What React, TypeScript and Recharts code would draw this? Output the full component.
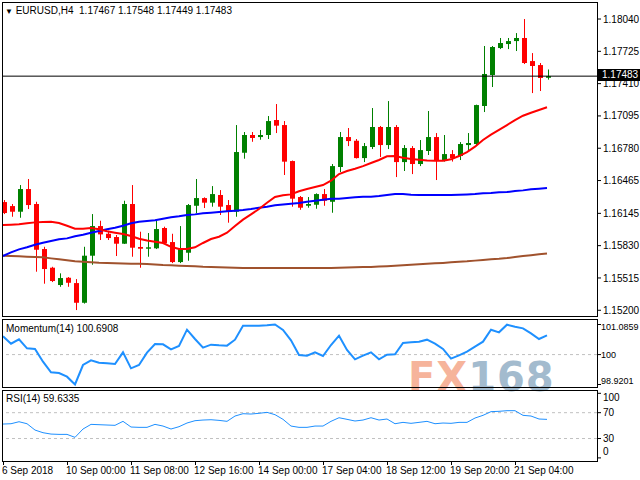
import React from 'react';
import { ComposedChart, Bar, Line, XAxis, YAxis, ReferenceLine } from 'recharts';

const FONT = '"Liberation Sans", Arial, sans-serif';
const BULL = '#008000';
const BEAR = '#FF0000';

// EURUSD H4 candles, one entry per bar (6 Sep 20:00 .. 21 Sep 04:00)
const opens = [
  1.16255, 1.16216, 1.16161, 1.16382, 1.16236, 1.15797, 1.15615, 1.15446, 1.15517, 1.15465,
  1.15273, 1.15732, 1.16021, 1.15946, 1.15914, 1.15849, 1.16236, 1.15817, 1.158, 1.15804,
  1.16002, 1.15865, 1.1567, 1.15761, 1.16219, 1.16294, 1.16249, 1.16324, 1.16226, 1.16161,
  1.16736, 1.16909, 1.16889, 1.16909, 1.17055, 1.17006, 1.16655, 1.16304, 1.16219, 1.16229,
  1.16333, 1.16258, 1.16597, 1.16889, 1.16853, 1.16684, 1.16792, 1.16987, 1.16811, 1.16987,
  1.16645, 1.16782, 1.16626, 1.16753, 1.16889, 1.16658, 1.16723, 1.16704, 1.16811, 1.16821,
  1.17192, 1.17494, 1.17757, 1.17796, 1.17825, 1.17855, 1.1763, 1.17591, 1.17467,
];
const highs = [
  1.16275, 1.16236, 1.16421, 1.1648, 1.16258, 1.15819, 1.15624, 1.1556, 1.15524, 1.15504,
  1.15819, 1.16138, 1.16073, 1.15975, 1.15934, 1.16268, 1.16421, 1.15966, 1.15953, 1.16084,
  1.16015, 1.15946, 1.16021, 1.16236, 1.1648, 1.16301, 1.16411, 1.16372, 1.16275, 1.17006,
  1.16938, 1.16938, 1.16958, 1.17094, 1.17211, 1.17045, 1.1666, 1.16314, 1.16304, 1.1634,
  1.16382, 1.16626, 1.16938, 1.16977, 1.1687, 1.16831, 1.17172, 1.16997, 1.1724, 1.17006,
  1.16811, 1.16801, 1.1686, 1.17143, 1.16928, 1.16909, 1.16762, 1.1684, 1.16928, 1.17205,
  1.17777, 1.17777, 1.17855, 1.17855, 1.17903, 1.1804, 1.17708, 1.17611, 1.17548,
];
const lows = [
  1.16138, 1.16112, 1.16102, 1.16187, 1.15576, 1.15459, 1.15475, 1.15429, 1.15429, 1.15202,
  1.15265, 1.15644, 1.15885, 1.15885, 1.15729, 1.15846, 1.15722, 1.15615, 1.15722, 1.15797,
  1.15846, 1.1566, 1.1566, 1.15683, 1.16145, 1.16197, 1.1621, 1.16129, 1.16054, 1.16112,
  1.16678, 1.16843, 1.16863, 1.1687, 1.16928, 1.16519, 1.1621, 1.1618, 1.162, 1.1619,
  1.16219, 1.16151, 1.16548, 1.16801, 1.1668, 1.16645, 1.16772, 1.16694, 1.16772, 1.16499,
  1.16558, 1.16528, 1.16606, 1.16714, 1.1647, 1.1665, 1.1665, 1.16665, 1.16753, 1.16801,
  1.17133, 1.17377, 1.17747, 1.17747, 1.17728, 1.17601, 1.17318, 1.17338, 1.17449,
];
const closes = [
  1.16148, 1.16161, 1.16382, 1.16226, 1.1579, 1.15602, 1.15485, 1.15514, 1.15468, 1.15273,
  1.15732, 1.16021, 1.1594, 1.15904, 1.15849, 1.16236, 1.1581, 1.158, 1.15814, 1.15992,
  1.15853, 1.1567, 1.15804, 1.16226, 1.16294, 1.16249, 1.16333, 1.1621, 1.16161, 1.16743,
  1.16909, 1.1688, 1.16909, 1.17045, 1.17, 1.16649, 1.16288, 1.162, 1.16236, 1.16333,
  1.16268, 1.16606, 1.16889, 1.1685, 1.16684, 1.16801, 1.16987, 1.16811, 1.16987, 1.16645,
  1.16782, 1.16626, 1.16762, 1.16889, 1.16658, 1.16723, 1.16684, 1.16821, 1.16831, 1.17201,
  1.17504, 1.17767, 1.17806, 1.17825, 1.17855, 1.17611, 1.17582, 1.17465, 1.17483,
];

// moving averages
const maRed = [
  1.16031, 1.16034, 1.16038, 1.16048, 1.16057, 1.1606, 1.16063, 1.16051, 1.16024, 1.15995,
  1.15995, 1.16002, 1.15989, 1.1597, 1.15956, 1.15943, 1.15924, 1.15897, 1.1588, 1.15868,
  1.15856, 1.15819, 1.15797, 1.15797, 1.15814, 1.15856, 1.15895, 1.15917, 1.15956, 1.16021,
  1.16084, 1.16135, 1.16187, 1.16249, 1.16304, 1.16321, 1.1633, 1.1636, 1.16382, 1.16402,
  1.16421, 1.16463, 1.16528, 1.16558, 1.1658, 1.16606, 1.16636, 1.16665, 1.16701, 1.16704,
  1.16687, 1.16675, 1.16668, 1.1666, 1.16658, 1.16658, 1.16672, 1.16704, 1.16743, 1.16795,
  1.1686, 1.16912, 1.16958, 1.17006, 1.17055, 1.17097, 1.17126, 1.17153, 1.17179,
];
const maBlue = [
  1.15729, 1.15765, 1.15794, 1.15814, 1.15839, 1.15858, 1.15875, 1.15892, 1.15901, 1.15921,
  1.15936, 1.15956, 1.15973, 1.15989, 1.16005, 1.16024, 1.16048, 1.16063, 1.1607, 1.16077,
  1.16093, 1.16106, 1.16116, 1.16129, 1.16135, 1.16145, 1.16151, 1.16158, 1.16165, 1.16171,
  1.16177, 1.16187, 1.162, 1.1621, 1.16223, 1.16231, 1.16239, 1.16246, 1.16258, 1.16268,
  1.16278, 1.16288, 1.16288, 1.16294, 1.16301, 1.16307, 1.16307, 1.16314, 1.16324, 1.16333,
  1.16333, 1.16327, 1.16324, 1.16324, 1.16324, 1.16324, 1.16324, 1.16327, 1.1633, 1.16333,
  1.1634, 1.16343, 1.1635, 1.16353, 1.16363, 1.16369, 1.16379, 1.16385, 1.16392,
];
const maBrown = [
  1.15732, 1.15729, 1.15726, 1.15722, 1.15719, 1.15716, 1.15706, 1.15697, 1.15687, 1.15677,
  1.15672, 1.15668, 1.15663, 1.15661, 1.15659, 1.15656, 1.15654, 1.15653, 1.15651, 1.15646,
  1.15641, 1.15638, 1.15634, 1.15631, 1.15628, 1.15624, 1.15622, 1.15619, 1.15616, 1.15614,
  1.15612, 1.15612, 1.15612, 1.15612, 1.15612, 1.15612, 1.15612, 1.15612, 1.15612, 1.15612,
  1.15612, 1.15612, 1.15614, 1.15617, 1.15619, 1.15622, 1.15623, 1.15626, 1.15629, 1.15633,
  1.15638, 1.15643, 1.15648, 1.15653, 1.15658, 1.15662, 1.15667, 1.15672, 1.15677, 1.15684,
  1.1569, 1.15697, 1.15702, 1.15709, 1.15719, 1.15729, 1.15737, 1.15745, 1.15753,
];

const momentum = [
  100.659, 100.394, 100.55, 100.226, 100.202, 99.744, 99.359, 99.335, 99.203, 98.9201,
  99.624, 99.792, 99.708, 99.684, 99.66, 100.081, 99.504, 99.624, 100.069, 100.382,
  100.37, 100.189, 100.31, 100.899, 100.563, 100.25, 100.358, 100.334, 100.322, 100.538,
  101.044, 101.044, 101.044, 101.056, 101.0859, 100.887, 100.514, 99.985, 99.961, 100.081,
  99.949, 100.346, 100.683, 100.165, 99.828, 99.961, 100.081, 99.828, 99.997, 100.009,
  100.418, 100.442, 100.466, 100.538, 100.394, 100.202, 99.853, 99.973, 100.105, 100.286,
  100.466, 100.899, 100.803, 101.08, 101.008, 100.948, 100.767, 100.563, 100.6908,
];
const rsi = [
  52.4, 52.9, 56.0, 52.9, 43.1, 39.0, 36.9, 36.4, 36.4, 31.8,
  44.7, 51.9, 51.4, 50.9, 50.4, 56.6, 47.8, 47.3, 47.3, 51.9,
  49.3, 44.7, 48.3, 54.0, 57.6, 58.6, 59.1, 58.1, 56.6, 64.8,
  68.4, 67.9, 69.0, 70.5, 66.9, 59.7, 49.3, 47.3, 47.3, 49.3,
  49.3, 56.6, 62.2, 59.7, 57.1, 58.6, 62.2, 58.6, 60.2, 52.9,
  55.0, 53.5, 55.0, 56.6, 52.9, 54.0, 53.5, 55.0, 55.0, 61.7,
  65.9, 71.6, 72.1, 73.1, 73.1, 65.9, 64.8, 60.2, 59.6335,
];

const priceTicks = [1.152, 1.15515, 1.1583, 1.16145, 1.16465, 1.1678, 1.17095, 1.1741, 1.17725, 1.1804];
const momTicks = [98.9201, 100, 101.0859];
const rsiTicks = [0, 30, 70, 100];
// one time label every 8 bars
const timeLabels = [
  '6 Sep 2018', '10 Sep 00:00', '11 Sep 08:00', '12 Sep 16:00', '14 Sep 00:00',
  '17 Sep 04:00', '18 Sep 12:00', '19 Sep 20:00', '21 Sep 04:00',
];

const rows = opens.map((o, i) => ({
  i,
  open: o,
  high: highs[i],
  low: lows[i],
  close: closes[i],
  maRed: maRed[i],
  maBlue: maBlue[i],
  maBrown: maBrown[i],
  mom: momentum[i],
  rsi: rsi[i],
}));

const CHART_W = 641;
const AXIS_W = 43;
const X_PAD = { left: 0, right: 46 };
const txt = { fill: '#000', fontSize: 10, fontFamily: FONT };

const Candle = (props: any) => {
  const { x, y, width, height, payload } = props;
  if (!payload) return null;
  const top = Math.min(y, y + height);
  const h = Math.abs(height);
  const { open, close, high, low } = payload;
  const ppu = h / (high - low);
  const yOf = (v: number) => top + (high - v) * ppu;
  const cx = Math.round(x + width / 2);
  const color = close >= open ? BULL : BEAR;
  const bTop = yOf(Math.max(open, close));
  const bBot = yOf(Math.min(open, close));
  return (
    <g>
      <rect x={cx} y={top} width={1} height={h} fill={color} />
      <rect x={cx - 2} y={bTop} width={5} height={Math.max(1, bBot - bTop)} fill={color} />
    </g>
  );
};

const offsetTick = (shift: Record<string, number>, size: number) => (props: any) => {
  const { x, y, payload } = props;
  const dy = shift[String(payload.value)] || 0;
  return (
    <text x={x} y={y + dy} dy="0.355em" {...txt} fontSize={size} textAnchor="start">
      {String(payload.value)}
    </text>
  );
};

const TimeTick = (props: any) => {
  const { x, y, payload } = props;
  const label = timeLabels[Math.round(payload.value / 8)];
  if (label === undefined) return null;
  return (
    <g>
      <line x1={x + 0.5} x2={x + 0.5} y1={y + 1} y2={y + 5} stroke="#000" />
      <text x={x - 1} y={y + 14} {...txt} textAnchor="start">
        {label}
      </text>
    </g>
  );
};

const abs = (left: number, top: number, extra: React.CSSProperties = {}): React.CSSProperties => ({
  position: 'absolute',
  left,
  top,
  ...extra,
});

const box = (top: number, height: number): React.CSSProperties =>
  abs(2, top, { width: 596, height, border: '1px solid #000', boxSizing: 'border-box', pointerEvents: 'none' });

const label = (left: number, top: number): React.CSSProperties =>
  abs(left, top, { fontFamily: FONT, fontSize: 10, lineHeight: '12px', color: '#000', whiteSpace: 'pre' });

export default function App() {
  return (
    <div style={abs(0, 0, { width: 640, height: 480, overflow: 'hidden', background: '#fff' })}>
      <svg style={abs(0, 0)} width={640} height={480}>
        <text x={408} y={391} fontFamily='"DejaVu Sans", sans-serif' fontWeight="bold" fontSize={40} letterSpacing={1}>
          <tspan fill="#F6B49B">FX</tspan>
          <tspan fill="#A3BBCE">168</tspan>
        </text>
      </svg>

      <div style={abs(-1, 2)}>
        <ComposedChart width={CHART_W} height={314} data={rows} margin={{ top: 0, right: 0, bottom: 0, left: 0 }}>
          <XAxis dataKey="i" hide scale="band" padding={X_PAD} />
          <YAxis
            orientation="right"
            width={AXIS_W}
            domain={[1.15144, 1.18206]}
            allowDataOverflow
            ticks={priceTicks}
            interval={0}
            tickFormatter={(v: number) => v.toFixed(5)}
            tick={txt}
            tickSize={4}
            tickLine={{ stroke: '#000' }}
            axisLine={false}
          />
          <ReferenceLine y={1.17483} stroke="#000" strokeWidth={1} />
          <Line dataKey="maBrown" stroke="#A0522D" strokeWidth={2} dot={false} isAnimationActive={false} />
          <Line dataKey="maBlue" stroke="#0000FF" strokeWidth={2} dot={false} isAnimationActive={false} />
          <Line dataKey="maRed" stroke="#FF0000" strokeWidth={2} dot={false} isAnimationActive={false} />
          <Bar dataKey={(d: any) => [d.low, d.high]} barSize={5} shape={<Candle />} isAnimationActive={false} />
        </ComposedChart>
      </div>

      <div style={abs(-1, 320)}>
        <ComposedChart width={CHART_W} height={67} data={rows} margin={{ top: 0, right: 0, bottom: 0, left: 0 }}>
          <XAxis dataKey="i" hide scale="band" padding={X_PAD} />
          <YAxis
            orientation="right"
            width={AXIS_W}
            domain={[98.8298, 101.2484]}
            allowDataOverflow
            ticks={momTicks}
            interval={0}
            tick={offsetTick({ '101.0859': 2.5, '98.9201': -3.5 }, 9)}
            tickSize={4}
            tickMargin={0}
            tickLine={{ stroke: '#000' }}
            axisLine={false}
          />
          <ReferenceLine y={100} stroke="#C0C0C0" strokeDasharray="3 3" />
          <Line dataKey="mom" stroke="#1E90FF" strokeWidth={2} dot={false} isAnimationActive={false} />
        </ComposedChart>
      </div>

      <div style={abs(-1, 391)}>
        <ComposedChart width={CHART_W} height={89} data={rows} margin={{ top: 0, right: 0, bottom: 0, left: 0 }}>
          <XAxis
            dataKey="i"
            scale="band"
            padding={X_PAD}
            height={20}
            interval={7}
            axisLine={false}
            tickLine={false}
            tickSize={0}
            tickMargin={0}
            tick={<TimeTick />}
          />
          <YAxis
            orientation="right"
            width={AXIS_W}
            domain={[-3.25, 103.56]}
            allowDataOverflow
            ticks={rsiTicks}
            interval={0}
            tick={offsetTick({ '100': 4, '0': -6 }, 10)}
            tickSize={4}
            tickLine={{ stroke: '#000' }}
            axisLine={false}
          />
          <ReferenceLine y={70} stroke="#C0C0C0" strokeDasharray="3 3" />
          <ReferenceLine y={30} stroke="#C0C0C0" strokeDasharray="3 3" />
          <Line dataKey="rsi" stroke="#1E90FF" strokeWidth={1} dot={false} isAnimationActive={false} />
        </ComposedChart>
      </div>

      <div style={abs(0, 0, { width: 2, height: 480, background: '#fff' })} />
      <div style={box(2, 315)} />
      <div style={box(319, 69)} />
      <div style={box(390, 72)} />

      <div style={label(5, 5)}>
        <span style={{ fontSize: 8 }}>▼</span>
        {' EURUSD,H4  1.17467 1.17548 1.17449 1.17483'}
      </div>
      <div style={label(6, 323)}>Momentum(14) 100.6908</div>
      <div style={label(6, 393)}>RSI(14) 59.6335</div>
      <div
        style={abs(598, 69, {
          width: 42,
          height: 12,
          background: '#000',
          color: '#fff',
          fontFamily: FONT,
          fontSize: 10,
          lineHeight: '12px',
          paddingLeft: 4,
          boxSizing: 'border-box',
        })}
      >
        1.17483
      </div>
    </div>
  );
}
